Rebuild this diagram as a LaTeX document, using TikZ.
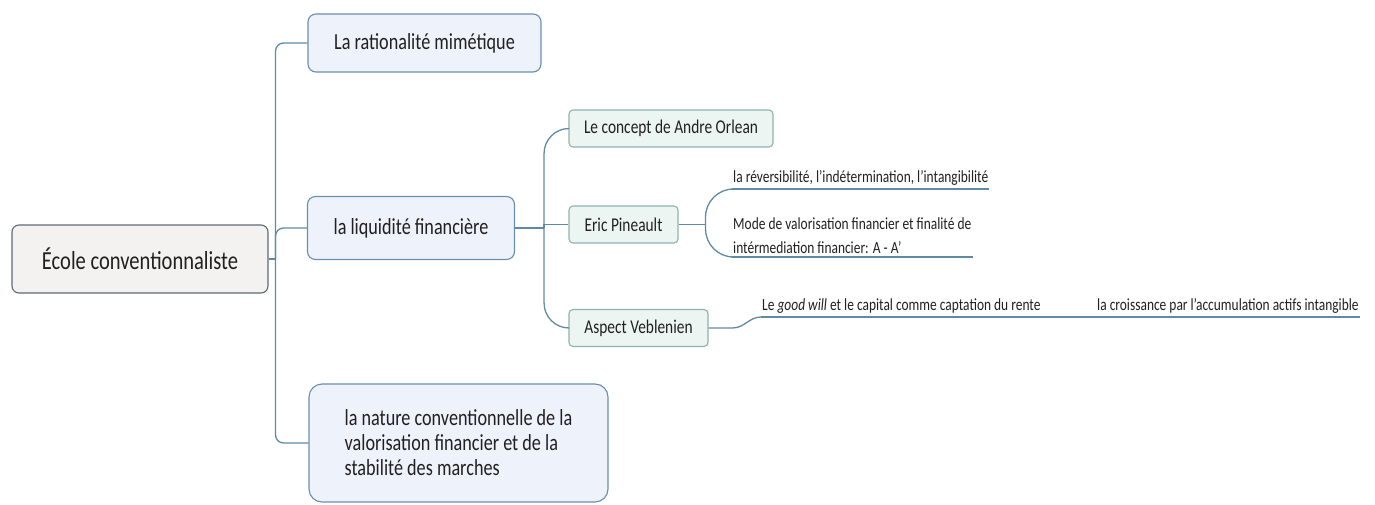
\documentclass[tikz,border=0pt]{standalone}
\usepackage{fontspec}
\setmainfont{Carlito}[FakeStretch=0.79]
\usetikzlibrary{positioning}

\definecolor{rootdraw}{HTML}{5E6A72}
\definecolor{rootfill}{HTML}{F3F2F1}
\definecolor{mainedge}{HTML}{6A8DB0}
\definecolor{mainfill}{HTML}{EEF3FB}
\definecolor{subedge}{HTML}{8DB4AC}
\definecolor{subfill}{HTML}{EDF5F2}
\definecolor{linkblue}{HTML}{5F8AA6}
\definecolor{inktext}{HTML}{202020}

\begin{document}
\begin{tikzpicture}[x=1pt,y=-1pt,
                    link/.style = {draw=linkblue, line width=1.3pt},
                    topic/.style = {draw=mainedge, fill=mainfill, line width=1.1pt, rounded corners=8pt,
                                    text=inktext, font=\fontsize{23}{25}\selectfont},
                    subtopic/.style = {draw=subedge, fill=subfill, line width=1.1pt, rounded corners=4pt,
                                       text=inktext, font=\fontsize{19.5}{22}\selectfont,
                                       minimum height=37pt, inner sep=0pt},
                    leaf/.style = {inner xsep=1pt, inner ysep=3pt, align=left, text=inktext,
                                   font=\fontsize{17}{24}\selectfont, anchor=south west,
                                   append after command={(\tikzlastnode.south west)
                                       edge[link, line width=1.1pt] (\tikzlastnode.south east)}}]
  \tikzstyle{every node}=[]
  \useasboundingbox (0,0) rectangle (1375,505);

  \node[draw=rootdraw, fill=rootfill, line width=1.1pt, rounded corners=7pt,
        minimum width=256pt, minimum height=68pt, text=inktext,
        font=\fontsize{26}{30}\selectfont] (root) at (140,259) {École conventionnaliste};

  \node[topic, minimum width=233pt, minimum height=58pt] (rationalite) at (424.5,43) {La rationalité mimétique};
  \node[topic, minimum width=207pt, minimum height=63pt] (liquidite)   at (411,228)   {la liquidité financière};
  \node[topic, rounded corners=13pt, minimum width=299pt, minimum height=118pt,
        align=left] (nature) at (458.5,443)
        {la nature conventionnelle de la\\valorisation financier et de la\\stabilité des marches};

  \node[subtopic, minimum width=204pt] (orlean)   at (671,128.5) {Le concept de Andre Orlean};
  \node[subtopic, minimum width=109pt] (pineault) at (623.5,224.5) {Eric Pineault};
  \node[subtopic, minimum width=139pt] (veblen)   at (638.5,328) {Aspect Veblenien};

  \node[leaf] (rev_indet) at (732,189) {la réversibilité, l'indétermination, l'intangibilité};
  \node[leaf] (mode_val)  at (732,257) {Mode de valorisation financier et finalité de\\intérmediation financier: A - A'};
  \node[leaf] (good_will) at (761,317) {Le \textit{good will} et le capital comme captation du rente};
  \node[leaf] (croissance) at (1096,317) {la croissance par l'accumulation actifs intangible};

  \coordinate[shift={(7,0)}]  (trunk1) at (root.east);
  \coordinate[shift={(29,0)}] (trunk2) at (liquidite.east);
  \coordinate[shift={(27,0)}] (trunk3) at (pineault.east);

  % main branches
  \draw[link] (root.east) -- (trunk1);
  \draw[link, rounded corners=8pt] (trunk1) |- (rationalite.west);
  \draw[link, rounded corners=8pt] (trunk1) |- (liquidite.west);
  \draw[link, rounded corners=8pt] (trunk1) |- (nature.west);

  % la liquidite
  \draw[link] (liquidite.east) -- (trunk2);
  \draw[link, rounded corners=25pt] (trunk2) |- (orlean.west);
  \draw[link] (trunk2) |- (pineault.west);
  \draw[link, rounded corners=25pt] (trunk2) |- (veblen.west);

  % Pineault and Veblen
  \draw[link] (pineault.east) -- (trunk3);
  \draw[link, rounded corners=28pt] (trunk3) |- (rev_indet.south west);
  \draw[link, rounded corners=28pt] (trunk3) |- (mode_val.south west);
  \draw[link] (veblen.east) -- ++(24,0) to[out=0,in=180] (good_will.south west);
  \draw[link] (good_will.south east) -- (croissance.south west);

\end{tikzpicture}
\end{document}
